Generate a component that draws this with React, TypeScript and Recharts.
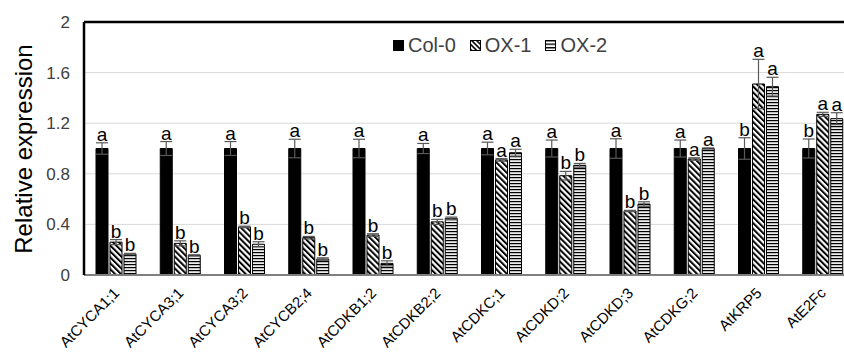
import React from 'react';
import {
  BarChart,
  Bar,
  XAxis,
  YAxis,
  CartesianGrid,
  ErrorBar,
  LabelList,
  ReferenceLine,
} from 'recharts';

const GENES = [
  'AtCYCA1;1', 'AtCYCA3;1', 'AtCYCA3;2', 'AtCYCB2;4', 'AtCDKB1;2', 'AtCDKB2;2',
  'AtCDKC;1', 'AtCDKD;2', 'AtCDKD;3', 'AtCDKG;2', 'AtKRP5', 'AtE2Fc',
];
const COL0 = [1, 1, 1, 1, 1, 1, 1, 1, 1, 1, 1, 1];
const COL0_ERR = [0.045, 0.055, 0.055, 0.073, 0.073, 0.04, 0.05, 0.067, 0.077, 0.067, 0.085, 0.075];
const OX1 = [0.26, 0.25, 0.38, 0.295, 0.316, 0.42, 0.91, 0.785, 0.506, 0.917, 1.51, 1.27];
const OX1_ERR = [0.02, 0.02, 0.006, 0.01, 0.01, 0.02, 0.01, 0.034, 0.005, 0.01, 0.195, 0.016];
const OX2 = [0.166, 0.155, 0.243, 0.126, 0.092, 0.448, 0.967, 0.867, 0.561, 1.0, 1.489, 1.236];
const OX2_ERR = [0.005, 0.005, 0.02, 0.01, 0.02, 0.01, 0.027, 0.015, 0.018, 0.005, 0.074, 0.047];
const COL0_LTR = ['a', 'a', 'a', 'a', 'a', 'a', 'a', 'a', 'a', 'a', 'b', 'b'];
const OX1_LTR = ['b', 'b', 'b', 'b', 'b', 'b', 'a', 'b', 'b', 'a', 'a', 'a'];
const OX2_LTR = ['b', 'b', 'b', 'b', 'b', 'b', 'a', 'b', 'b', 'a', 'a', 'a'];
const Y_TICKS = [0, 0.4, 0.8, 1.2, 1.6, 2];

const data = GENES.map((gene, i) => ({
  gene,
  col0: COL0[i],
  col0Err: COL0_ERR[i],
  ox1: OX1[i],
  ox1Err: OX1_ERR[i],
  ox2: OX2[i],
  ox2Err: OX2_ERR[i],
}));

const FONT = '"Liberation Sans", Arial, sans-serif';

// significance letter sits just above the error bar cap
const letterLabel = (vals: number[], errs: number[], letters: string[]) => (p: any) => {
  const i = p.index;
  const x = Number(p.x);
  const y = Number(p.y);
  const w = Number(p.width);
  const h = Number(p.height);
  const perUnit = h / vals[i];
  const top = y - errs[i] * perUnit;
  return (
    <text x={x + w / 2} y={top - 2} textAnchor="middle" fontSize={19} fontFamily={FONT} fill="#000">
      {letters[i]}
    </text>
  );
};

const XTick = ({ x, y, payload }: any) => (
  <text
    transform={`translate(${x + 4},${y + 17}) rotate(-45)`}
    textAnchor="end"
    fontSize={15}
    fontFamily={FONT}
    fill="#000"
  >
    {payload.value}
  </text>
);

const LEGEND = ['Col-0', 'OX-1', 'OX-2'];

const LegendBox = () => (
  <div
    style={{
      position: 'absolute', left: 393, top: 33, display: 'flex', alignItems: 'center',
      fontFamily: FONT, fontSize: 20, color: '#404040', lineHeight: '24px',
    }}
  >
    {LEGEND.map((name) => (
      <div key={name} style={{ display: 'flex', alignItems: 'center', marginRight: 14 }}>
        <svg width={11} height={11} style={{ marginRight: 4 }}>
          <defs>
            <pattern id={`lg-${name}`} patternUnits="userSpaceOnUse" width={3.5} height={3.5}
              patternTransform={name === 'OX-1' ? 'rotate(-45)' : undefined}>
              <rect width={3.5} height={3.5} fill="#fff" />
              {name === 'OX-1' && <rect width={1.6} height={3.5} fill="#000" />}
              {name === 'OX-2' && <rect width={3.5} height={1.4} fill="#000" />}
            </pattern>
          </defs>
          <rect x={0.5} y={0.5} width={10} height={10}
            fill={name === 'Col-0' ? '#000' : `url(#lg-${name})`} stroke="#000" strokeWidth={1} />
        </svg>
        <span>{name}</span>
      </div>
    ))}
  </div>
);

export default function App() {
  return (
    <div style={{ position: 'absolute', left: 0, top: 0, width: 844, height: 352, overflow: 'hidden', background: '#fff' }}>
      <BarChart
        width={870}
        height={352}
        data={data}
        margin={{ top: 22, right: 15, bottom: 0, left: 0 }}
        barSize={12}
        barGap={2}
      >
        <defs>
          <pattern id="diag" patternUnits="userSpaceOnUse" width={4.2} height={4.2} patternTransform="rotate(-45)">
            <rect width={4.2} height={4.2} fill="#fff" />
            <rect width={2} height={4.2} fill="#000" />
          </pattern>
          <pattern id="horiz" patternUnits="userSpaceOnUse" width={4} height={3}>
            <rect width={4} height={3} fill="#ececec" />
            <rect width={4} height={1.2} fill="#000" />
          </pattern>
        </defs>
        <CartesianGrid vertical={false} stroke="#d9d9d9" />
        <XAxis
          dataKey="gene"
          interval={0}
          height={77}
          tickSize={0}
          tickLine={false}
          tick={<XTick />}
          axisLine={{ stroke: '#7f7f7f', strokeWidth: 2 }}
        />
        <YAxis
          domain={[0, 2]}
          ticks={Y_TICKS}
          width={84}
          tickSize={0}
          tickMargin={14}
          tickLine={false}
          axisLine={{ stroke: '#000', strokeWidth: 2.5 }}
          tick={{ fontSize: 17, fontFamily: FONT, fill: '#404040' }}
          label={{
            content: () => (
              <text
                transform="translate(32,149) rotate(-90)"
                textAnchor="middle"
                fontSize={24}
                fontFamily={FONT}
                fill="#000"
              >
                Relative expression
              </text>
            ),
          }}
        />
        <ReferenceLine y={2} stroke="#000" strokeWidth={2.5} />
        <Bar dataKey="col0" name="Col-0" fill="#000" stroke="#000" strokeWidth={1} isAnimationActive={false}>
          <ErrorBar dataKey="col0Err" width={6} stroke="#595959" strokeWidth={1.2} />
          <LabelList content={letterLabel(COL0, COL0_ERR, COL0_LTR)} />
        </Bar>
        <Bar dataKey="ox1" name="OX-1" fill="url(#diag)" stroke="#000" strokeWidth={1} isAnimationActive={false}>
          <ErrorBar dataKey="ox1Err" width={6} stroke="#595959" strokeWidth={1.2} />
          <LabelList content={letterLabel(OX1, OX1_ERR, OX1_LTR)} />
        </Bar>
        <Bar dataKey="ox2" name="OX-2" fill="url(#horiz)" stroke="#000" strokeWidth={1} isAnimationActive={false}>
          <ErrorBar dataKey="ox2Err" width={6} stroke="#595959" strokeWidth={1.2} />
          <LabelList content={letterLabel(OX2, OX2_ERR, OX2_LTR)} />
        </Bar>
      </BarChart>
      <LegendBox />
    </div>
  );
}
